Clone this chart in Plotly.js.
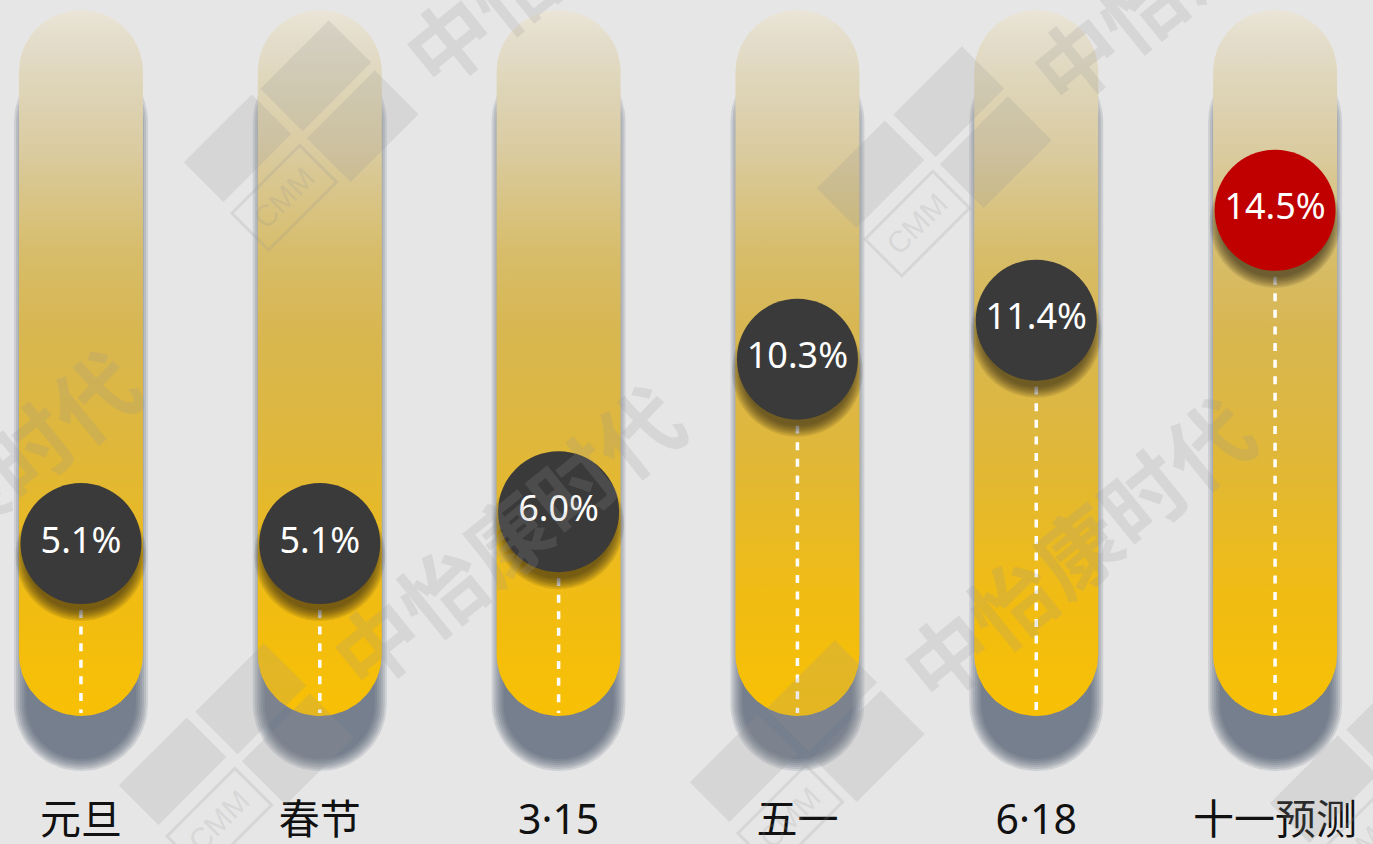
<!DOCTYPE html>
<html>
<head>
<meta charset="utf-8">
<script src="https://cdn.plot.ly/plotly-3.0.1.min.js"></script>
<style>
  html, body { margin: 0; padding: 0; background: #E6E6E6; }
  #chart { width: 1373px; height: 844px; }
</style>
</head>
<body>
<div id="chart"></div>
<script>
// ---------------- data ----------------
const categories = ['元旦', '春节', '3·15', '五一', '6·18', '十一预测'];
const values = [5.1, 5.1, 6.0, 10.3, 11.4, 14.5];
const circleColors = ['#3A3A3A', '#3A3A3A', '#3A3A3A', '#3A3A3A', '#3A3A3A', '#C00000'];

// ---------------- layout geometry ----------------
const W = 1373, H = 844, MB = 54, PH = H - MB;
const XMIN = -0.339, XMAX = 5.410;
const YMIN = -1.85, YMAX = 20.43;
const px2x = px => XMIN + px / W * (XMAX - XMIN);
const py2y = py => YMAX - py / PH * (YMAX - YMIN);
const x2px = x => (x - XMIN) / (XMAX - XMIN) * W;
const yPerPx = (YMAX - YMIN) / PH;

const BAR_R = 62, BAR_TOP = 10, BAR_BOT = 716;

function pill(cx, top, bot, r) {
  const xs = [], ys = [];
  const N = 40;
  for (let k = 0; k <= N; k++) {
    const a = Math.PI - Math.PI * k / N;
    xs.push(px2x(cx + r * Math.cos(a)));
    ys.push(py2y(top + r - r * Math.sin(a)));
  }
  for (let k = 0; k <= N; k++) {
    const a = Math.PI * k / N;
    xs.push(px2x(cx + r * Math.cos(a)));
    ys.push(py2y(bot - r + r * Math.sin(a)));
  }
  xs.push(xs[0]); ys.push(ys[0]);
  return {xs, ys};
}

const traces = [];

// bar shadows (soft, offset downward)
const SH_OFF = 50;
[-7, -5, -3, -1, 1, 3, 5].forEach(e => {
  categories.forEach((c, i) => {
    const cx = x2px(i);
    const p = pill(cx, BAR_TOP + SH_OFF - e, BAR_BOT + SH_OFF + e, BAR_R + e);
    traces.push({
      x: p.xs, y: p.ys, type: 'scatter', mode: 'lines', fill: 'toself',
      fillcolor: 'rgba(70,80,98,0.15)', line: {width: 0}, hoverinfo: 'skip', showlegend: false
    });
  });
});

// bars with vertical gradient
const barScale = [
  [0.00, '#F8C004'],
  [0.16, '#F1BC12'],
  [0.38, '#DFB73A'],
  [0.55, '#D8B752'],
  [0.66, '#D7BD6B'],
  [0.80, '#DACBA0'],
  [0.89, '#DED5B8'],
  [0.96, '#E4DDCB'],
  [1.00, '#EAE5D8']
];
categories.forEach((c, i) => {
  const cx = x2px(i);
  const p = pill(cx, BAR_TOP, BAR_BOT, BAR_R);
  traces.push({
    x: p.xs, y: p.ys, type: 'scatter', mode: 'lines', fill: 'toself',
    fillcolor: '#E6B72A',
    fillgradient: {type: 'vertical', colorscale: barScale, start: py2y(BAR_BOT), stop: py2y(BAR_TOP)},
    line: {width: 0}, hoverinfo: 'skip', showlegend: false
  });
});

// dashed guide lines from each circle down to the bar bottom
const dx = [], dy = [];
categories.forEach((c, i) => {
  dx.push(i, i, null);
  dy.push(values[i], py2y(BAR_BOT - 3), null);
});
traces.push({
  x: dx, y: dy, type: 'scatter', mode: 'lines',
  line: {color: '#FFFFFF', width: 3.5, dash: '8px,8.6px'},
  hoverinfo: 'skip', showlegend: false
});

// circle shadows (soft blur approximated by stacked translucent discs)
[110, 113, 116, 119, 122, 125, 128, 131].forEach(s => {
  traces.push({
    x: categories.map((c, i) => i),
    y: values.map(v => v - 12 * yPerPx),
    type: 'scatter', mode: 'markers',
    marker: {size: s, color: 'rgba(45,38,22,0.11)', line: {width: 0}},
    hoverinfo: 'skip', showlegend: false
  });
});

// value circles
traces.push({
  x: categories.map((c, i) => i),
  y: values,
  type: 'scatter', mode: 'markers+text',
  marker: {size: 121, color: circleColors, line: {width: 0}},
  text: values.map(v => v.toFixed(1) + '%'),
  textposition: 'middle center',
  textfont: {family: 'Noto Sans, Open Sans, sans-serif', size: 36, color: '#FFFFFF'},
  hoverinfo: 'skip', showlegend: false
});

// ---------------- watermarks ----------------
const WM = 'rgba(150,150,150,0.2)';
const toPX = px => px / W;
const toPY = py => (PH - py) / PH;
const logoCenters = [[297, 134], [930, 160], [232, 757], [803, 754], [1383, 775]];
const textCenters = [[577, -68], [1205, -49], [505, 535], [1075, 547], [-39, 500]];
const shapes = [];
const annotations = [];
const c45 = Math.SQRT1_2;
function uv(O, u, v) {
  // u: down-right, v: up-right (screen pixels)
  return [O[0] + u * c45 + v * c45, O[1] + u * c45 - v * c45];
}
function rectPath(O, u0, u1, v0, v1) {
  const pts = [uv(O, u0, v0), uv(O, u1, v0), uv(O, u1, v1), uv(O, u0, v1)];
  return 'M ' + pts.map(p => toPX(p[0]).toFixed(5) + ' ' + toPY(p[1]).toFixed(5)).join(' L ') + ' Z';
}
logoCenters.forEach(O => {
  shapes.push({type: 'path', xref: 'paper', yref: 'paper', layer: 'above', path: rectPath(O, -58, 2, 6, 103), fillcolor: WM, line: {width: 0}});
  shapes.push({type: 'path', xref: 'paper', yref: 'paper', layer: 'above', path: rectPath(O, 10, 72, 4, 100), fillcolor: WM, line: {width: 0}});
  shapes.push({type: 'path', xref: 'paper', yref: 'paper', layer: 'above', path: rectPath(O, -60, -4, -100, -4), fillcolor: WM, line: {width: 0}});
  shapes.push({type: 'path', xref: 'paper', yref: 'paper', layer: 'above', path: rectPath(O, 10, 62, -102, -6), fillcolor: 'rgba(0,0,0,0)', line: {color: WM, width: 3}});
  const t = uv(O, 36, -54);
  annotations.push({xref: 'paper', yref: 'paper', x: toPX(t[0]), y: toPY(t[1]), text: 'CMM', showarrow: false,
    textangle: -45, font: {family: 'Liberation Sans, sans-serif', size: 30, color: WM}, xanchor: 'center', yanchor: 'middle'});
});
textCenters.forEach(T => {
  annotations.push({xref: 'paper', yref: 'paper', x: toPX(T[0]), y: toPY(T[1]), text: '<b>中怡康时代</b>', showarrow: false,
    textangle: -39, font: {family: 'Noto Sans CJK SC, sans-serif', size: 84, color: WM}, xanchor: 'center', yanchor: 'middle'});
});

const layout = {
  width: W, height: H,
  margin: {l: 0, r: 0, t: 0, b: MB, pad: 0},
  paper_bgcolor: '#E6E6E6',
  plot_bgcolor: '#E6E6E6',
  showlegend: false,
  xaxis: {
    range: [XMIN, XMAX], fixedrange: true,
    tickvals: categories.map((c, i) => i), ticktext: categories,
    showgrid: false, zeroline: false, showline: false, ticks: '',
    tickfont: {family: 'Noto Sans, Noto Sans CJK SC, sans-serif', size: 41, color: '#111111'},
    ticklabelstandoff: 2
  },
  yaxis: {range: [YMIN, YMAX], visible: false, fixedrange: true, showgrid: false, zeroline: false},
  shapes: shapes,
  annotations: annotations
};

Plotly.newPlot('chart', traces, layout, {displayModeBar: false, staticPlot: true});
</script>
</body>
</html>
